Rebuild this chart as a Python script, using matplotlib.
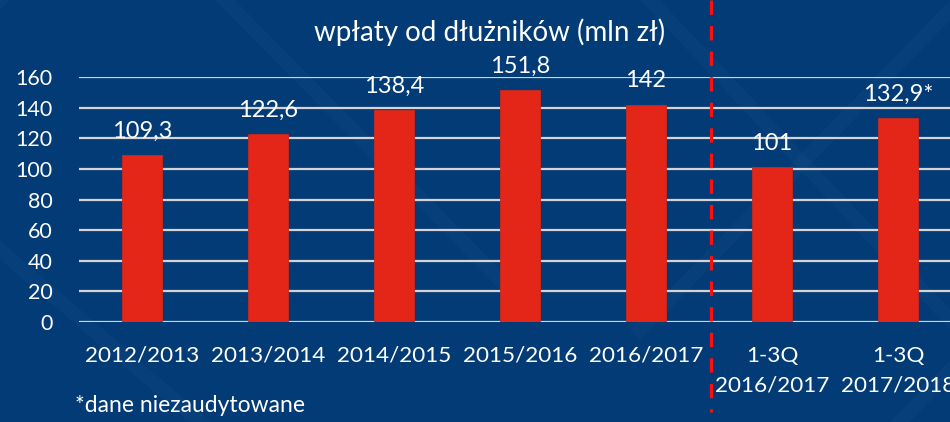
import matplotlib
matplotlib.use("Agg")
import matplotlib.pyplot as plt
from matplotlib.lines import Line2D

categories = ["2012/2013", "2013/2014", "2014/2015", "2015/2016", "2016/2017",
              "1-3Q\n2016/2017", "1-3Q\n2017/2018"]
values = [109.3, 122.6, 138.4, 151.8, 142, 101, 132.9]
value_labels = ["109,3", "122,6", "138,4", "151,8", "142", "101", "132,9*"]
yticks = [0, 20, 40, 60, 80, 100, 120, 140, 160]
title = "wpłaty od dłużników (mln zł)"
footnote = "*dane niezaudytowane"

BG = "#023b76"
BAR = "#e42618"
W, H = 950, 422
plt.rcParams['font.family'] = ['Lato', 'DejaVu Sans']

fig = plt.figure(figsize=(W / 100, H / 100), dpi=100)
fig.patch.set_facecolor(BG)

# faint background diagonal pattern
for (x0, y0, x1, y1) in [(-60, 60, 60, -60), (225, 0, 520, 300), (650, 0, 960, 330),
                         (960, 0, 640, 330), (0, 250, 200, 422), (900, 422, 960, 360)]:
    fig.add_artist(Line2D([x0 / W, x1 / W], [1 - y0 / H, 1 - y1 / H],
                          transform=fig.transFigure, color="#2a5c92", alpha=0.15,
                          lw=10, zorder=0))

left, right, bottom, top = 79, 961, 322, 77
ax = fig.add_axes([left / W, 1 - bottom / H, (right - left) / W, (bottom - top) / H])
ax.set_facecolor("none")
x = list(range(len(categories)))
bars = ax.bar(x, values, width=0.31, color=BAR, edgecolor="#c8281e", linewidth=0.6, zorder=3)
ax.set_xlim(-0.5, len(categories) - 0.5)
ax.set_ylim(0, 160)
ax.set_yticks(yticks)
ax.set_yticklabels([str(v) for v in yticks], color="white", fontsize=15.5)
ax.set_xticks(x)
ax.set_xticklabels(categories, color="white", fontsize=16.2, linespacing=1.6)
ax.tick_params(axis="both", length=0)
ax.tick_params(axis="x", pad=17)
ax.tick_params(axis="y", pad=19)
for lbl in ax.get_yticklabels():
    lbl.set_horizontalalignment("right")
ax.grid(axis="y", color="#d4d4d4", linewidth=1.6, zorder=1)
for s in ax.spines.values():
    s.set_visible(False)

for xi, v, t in zip(x, values, value_labels):
    ax.annotate(t, (xi, v), xytext=(0, 9.5), textcoords="offset points",
                ha="center", va="bottom", color="white", fontsize=17, zorder=4)

fig.text(490 / W, 1 - 32 / H, title, color="white", fontsize=20, ha="center", va="center")
fig.text(75 / W, 1 - 405 / H, footnote, color="white", fontsize=16.5, ha="left", va="center")

fig.add_artist(Line2D([711 / W, 711 / W], [1.0, 1 - 412 / H], transform=fig.transFigure,
                      color="#ff1010", lw=2.3, linestyle=(0, (4.5, 3.5)), zorder=5))

fig.savefig("out.png", dpi=100, facecolor=BG)
